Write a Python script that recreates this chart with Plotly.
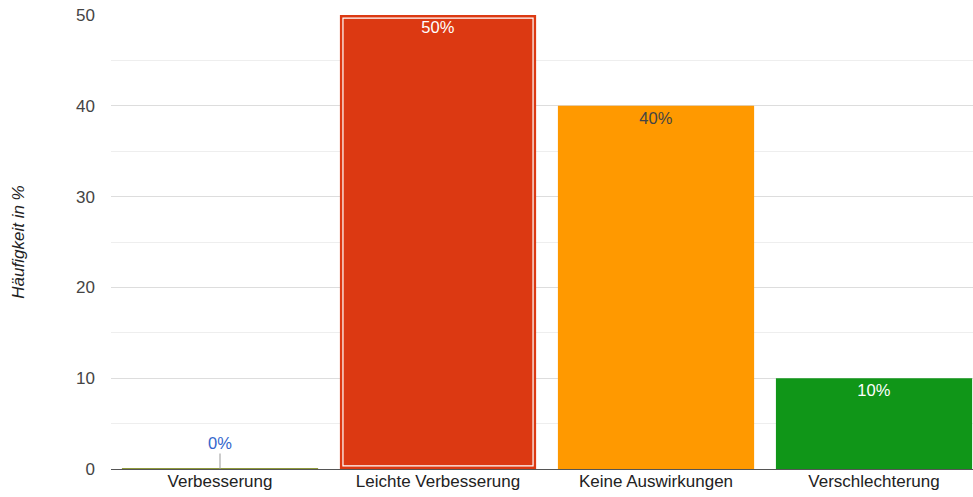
import plotly.graph_objects as go

categories = ["Verbesserung", "Leichte Verbesserung", "Keine Auswirkungen", "Verschlechterung"]
values = [0, 50, 40, 10]
bar_colors = ["#8f9a3c", "#dc3912", "#ff9900", "#109618"]
label_colors = ["#3366cc", "#ffffff", "#444444", "#ffffff"]
highlight = "Leichte Verbesserung"
y_ticks = [0, 10, 20, 30, 40, 50]
y_title = "Häufigkeit in %"

FONT = "Liberation Sans, Arial, Helvetica, sans-serif"

labels = [f"{v}%" for v in values]
inside_text = [t if v > 0 else "" for t, v in zip(labels, values)]

fig = go.Figure()
fig.add_trace(go.Bar(
    x=categories, y=values,
    width=0.9,
    marker=dict(color=bar_colors, line=dict(color=bar_colors, width=[2 if v == 0 else 0 for v in values])),
    text=inside_text,
    textposition="inside",
    insidetextanchor="end",
    textfont=dict(family=FONT, size=16.5, color=label_colors),
    cliponaxis=True,
    hoverinfo="skip",
))

# white inner highlight border on the selected bar
pad = 0.35
hi_idx = categories.index(highlight)
fig.add_trace(go.Bar(
    x=[categories[hi_idx]], y=[values[hi_idx] - 2 * pad], base=[pad],
    width=0.872,
    marker=dict(color="rgba(0,0,0,0)", line=dict(color="white", width=1.2)),
    hoverinfo="skip",
))

# labels for zero-height bars, with leader line
for c, v, t, col in zip(categories, values, labels, label_colors):
    if v == 0:
        fig.add_annotation(
            x=c, y=v, xref="x", yref="y", text=t,
            showarrow=True, arrowhead=0, arrowwidth=1, arrowcolor="#999999",
            ax=0, ay=-26, font=dict(family=FONT, size=16.5, color=col),
        )

fig.update_layout(
    width=973, height=497,
    margin=dict(l=111, r=0, t=15, b=28),
    paper_bgcolor="white", plot_bgcolor="white",
    showlegend=False, barmode="overlay",
    font=dict(family=FONT, size=17, color="#222222"),
)
fig.update_xaxes(
    range=[-0.5, 3.454],
    showgrid=False, showline=False, ticks="",
    tickfont=dict(family=FONT, size=17, color="#222222"),
)
fig.update_yaxes(
    range=[0, 50], tickvals=y_ticks,
    showgrid=True, gridcolor="#dddddd", gridwidth=1,
    minor=dict(dtick=5, showgrid=True, gridcolor="#eeeeee", gridwidth=1),
    zeroline=True, zerolinecolor="#555555", zerolinewidth=1,
    showline=False, ticks="",
    ticklabelstandoff=15,
    ticklabeloverflow="allow",
    tickfont=dict(family=FONT, size=17, color="#444444"),
    title=dict(text=y_title, font=dict(family=FONT, size=17, color="#222222", style="italic"), standoff=47),
    automargin=False,
)

fig.write_html(
    "out.html",
    config={"displayModeBar": False},
    post_script="document.body.style.margin='0';document.body.style.overflow='hidden';",
)
